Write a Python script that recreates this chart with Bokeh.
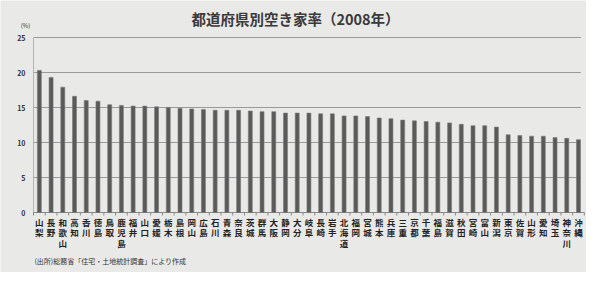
from bokeh.plotting import figure
from bokeh.models import Range1d, ColumnDataSource
from bokeh.core.properties import value
from bokeh.embed import file_html
from bokeh.resources import INLINE

prefectures = ["山梨", "長野", "和歌山", "高知", "香川", "徳島", "鳥取", "鹿児島", "福井", "山口",
               "愛媛", "栃木", "島根", "岡山", "広島", "石川", "青森", "奈良", "茨城", "群馬",
               "大阪", "静岡", "大分", "岐阜", "長崎", "岩手", "北海道", "福岡", "宮城", "熊本",
               "兵庫", "三重", "京都", "千葉", "福島", "滋賀", "秋田", "宮崎", "富山", "新潟",
               "東京", "佐賀", "山形", "愛知", "埼玉", "神奈川", "沖縄"]
rates = [20.3, 19.3, 17.9, 16.6, 16.0, 15.9, 15.4, 15.3, 15.2, 15.2,
         15.1, 15.0, 14.9, 14.8, 14.7, 14.6, 14.6, 14.6, 14.5, 14.4,
         14.4, 14.2, 14.2, 14.2, 14.1, 14.1, 13.8, 13.8, 13.7, 13.5,
         13.4, 13.2, 13.1, 13.0, 12.9, 12.8, 12.6, 12.4, 12.4, 12.2,
         11.1, 11.0, 10.9, 10.9, 10.7, 10.6, 10.4]
y_ticks = [0, 5, 10, 15, 20, 25]
y_tick_labels = ["0", "5", "10", "15", "20", "25"]
title_text = "都道府県別空き家率（2008年）"
unit_text = "(%)"
source_text = "(出所)総務省「住宅・土地統計調査」により作成"

FONT = value("Noto Sans CJK JP")
BG = "#e9e9e7"
W, H = 586, 272
PX_X = 11.72          # pixels per category
PX_Y = 7.0            # pixels per percentage point
LEFT, TOP = 33, 37    # offsets of the plotting area

n = len(prefectures)
x_start = -LEFT / PX_X
y_end = y_ticks[-1] + TOP / PX_Y
y_start = y_end - H / PX_Y

p = figure(x_range=Range1d(x_start, x_start + W / PX_X), y_range=Range1d(y_start, y_end),
           width=W, height=H, output_backend="svg", toolbar_location=None,
           min_border=0)
p.axis.visible = False
p.grid.visible = False
p.background_fill_color = BG
p.border_fill_color = BG
p.outline_line_color = None

xs = [i + 0.5 for i in range(n)]

# grid lines
gl = [t for t in y_ticks if t > 0]
p.segment(x0=[0] * len(gl), y0=gl, x1=[n - 0.3] * len(gl), y1=gl,
          line_color="#9a9a9a", line_width=1)
# y axis line and baseline
p.segment(x0=[0], y0=[0], x1=[0], y1=[y_ticks[-1]], line_color="#b5b5b5", line_width=1)
p.segment(x0=[0], y0=[0], x1=[n], y1=[0], line_color="#8a8a8a", line_width=1)
# small category ticks
p.segment(x0=list(range(n + 1)), y0=[0] * (n + 1), x1=list(range(n + 1)),
          y1=[-3 / PX_Y] * (n + 1), line_color="#8a8a8a", line_width=1)

# bars
src = ColumnDataSource(dict(x=xs, rate=rates))
p.vbar(x="x", top="rate", width=0.34, bottom=0, source=src,
       fill_color="#5a5a5a", line_color="#7a7a7a", line_width=0.6)

# y tick labels
p.text(x=[-8 / PX_X] * len(y_ticks), y=y_ticks, text=y_tick_labels, text_font=FONT,
       text_font_size="7px", text_font_style="bold", text_color="#333333",
       text_align="right", text_baseline="middle")

# stacked category labels (one character per row)
cx, cy, ct = [], [], []
for i, name in enumerate(prefectures):
    for j, ch in enumerate(name):
        cx.append(i + 0.5)
        cy.append(-(9.5 + 10.3 * j) / PX_Y)
        ct.append(ch)
p.text(x=cx, y=cy, text=ct, text_font=FONT, text_font_size="8.5px", text_font_style="bold",
       text_color="#222222", text_align="center", text_baseline="middle")

# title, unit, source
p.text(x=[x_start + 295 / PX_X], y=[y_end - 18 / PX_Y], text=[title_text], text_font=FONT,
       text_font_size="14.5px", text_font_style="bold", text_color="#3a3a3a",
       text_align="center", text_baseline="middle")
p.text(x=[x_start + 25 / PX_X], y=[y_end - 25 / PX_Y], text=[unit_text], text_font=FONT,
       text_font_size="6px", text_color="#333333", text_align="center", text_baseline="middle")
p.text(x=[x_start + 34 / PX_X], y=[-48 / PX_Y], text=[source_text], text_font=FONT,
       text_font_size="7px", text_color="#333333", text_align="left", text_baseline="middle")

open("out.html", "w").write(file_html(p, INLINE))
